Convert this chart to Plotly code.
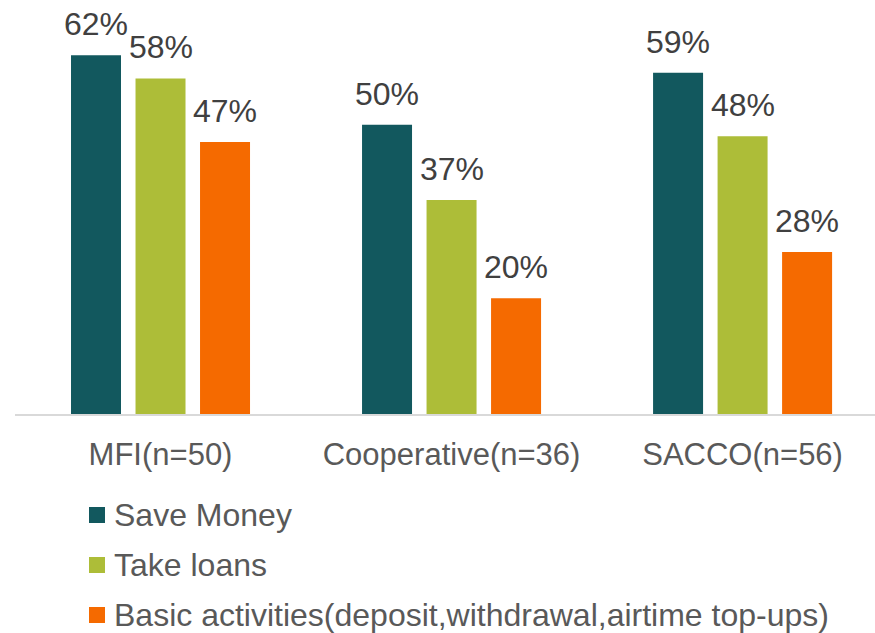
import plotly.graph_objects as go

categories = ["MFI(n=50)", "Cooperative(n=36)", "SACCO(n=56)"]
series_names = [
    "Save Money",
    "Take loans",
    "Basic activities(deposit,withdrawal,airtime top-ups)",
]
save_money = [62, 50, 59]
take_loans = [58, 37, 48]
basic_activities = [47, 20, 28]
series_values = [save_money, take_loans, basic_activities]
colors = ["#12585E", "#ADBD38", "#F56A00"]

FONT = "Arial, Liberation Sans, sans-serif"
W, H = 875, 633
ML, MR, MT, MB = 15, 0, 9, 219
PLOT_W = W - ML - MR
PLOT_H = H - MT - MB

BARGAP = 0.335
GROUPGAP = 0.225
slot = (1 - BARGAP) / 3


def px_to_paper_x(px):
    return (px - ML) / PLOT_W


def px_to_paper_y(py):
    return (H - MB - py) / PLOT_H


fig = go.Figure()
for j, (name, vals, col) in enumerate(zip(series_names, series_values, colors)):
    fig.add_trace(go.Bar(
        x=categories, y=vals, name=name, marker=dict(color=col, line=dict(width=0)),
    ))
    for i, v in enumerate(vals):
        fig.add_annotation(
            x=i + (j - 1) * slot, y=v, xref="x", yref="y",
            text=f"{v}%", showarrow=False, yanchor="bottom", yshift=11,
            font=dict(family=FONT, size=32, color="#404040"),
        )

# Legend below the axis: a colour swatch and a label per series
LEG_LEFT, LEG_TOP_ROW, LEG_STEP, SWATCH = 89, 515, 50, 16
for j, (name, col) in enumerate(zip(series_names, colors)):
    cy = LEG_TOP_ROW + j * LEG_STEP
    fig.add_shape(
        type="rect", xref="paper", yref="paper",
        x0=px_to_paper_x(LEG_LEFT), x1=px_to_paper_x(LEG_LEFT + SWATCH),
        y0=px_to_paper_y(cy - SWATCH / 2 + 0), y1=px_to_paper_y(cy + SWATCH / 2),
        fillcolor=col, line=dict(width=0),
    )
    fig.add_annotation(
        x=px_to_paper_x(LEG_LEFT + SWATCH + 7), y=px_to_paper_y(cy),
        xref="paper", yref="paper", xanchor="left", yanchor="middle",
        text=name, showarrow=False,
        font=dict(family=FONT, size=32, color="#595959"),
    )

fig.update_layout(
    width=W, height=H,
    margin=dict(l=ML, r=MR, t=MT, b=MB, autoexpand=False),
    paper_bgcolor="white", plot_bgcolor="white",
    barmode="group", bargap=BARGAP, bargroupgap=GROUPGAP,
    font=dict(family=FONT, color="#595959"),
    showlegend=False,
)
fig.update_xaxes(
    range=[-0.5, 2.455], showline=True, linecolor="#D9D9D9", linewidth=2,
    showgrid=False, ticks="", tickfont=dict(family=FONT, size=31, color="#595959"),
    ticklabelstandoff=12,
)
fig.update_yaxes(range=[0, 70], visible=False, showgrid=False)

fig.write_html("out.html")
